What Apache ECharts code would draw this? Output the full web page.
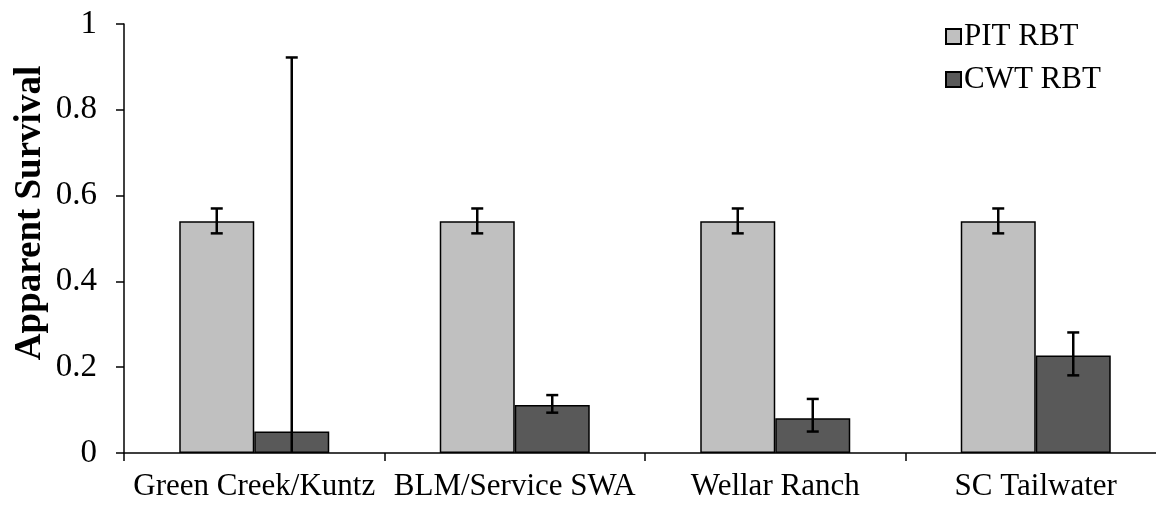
<!DOCTYPE html>
<html><head><meta charset="utf-8">
<script src="https://cdn.jsdelivr.net/npm/echarts@6/dist/echarts.min.js"></script>
<style>html,body{margin:0;padding:0;background:#fff}#c{width:1156px;height:514px}</style>
</head><body><div id="c"></div>
<script>
const categories = ['Green Creek/Kuntz', 'BLM/Service SWA', 'Wellar Ranch', 'SC Tailwater'];
const seriesNames = ['PIT RBT', 'CWT RBT'];
const pitValues = [0.54, 0.54, 0.54, 0.54];
const pitLow = [0.512, 0.512, 0.512, 0.512];
const pitHigh = [0.570, 0.570, 0.570, 0.570];
const cwtValues = [0.05, 0.112, 0.081, 0.227];
const cwtLow = [0.0, 0.094, 0.05, 0.181];
const cwtHigh = [0.922, 0.135, 0.126, 0.281];
const yTicks = [0, 0.2, 0.4, 0.6, 0.8, 1];
const yTitle = 'Apparent Survival';

const FONT = '"Liberation Serif", "Times New Roman", serif';
const BAR_W = 75;

function errData(low, high) {
  return categories.map((c, i) => [i, low[i], high[i]]);
}
function errSeries(low, high, offset) {
  return {
    type: 'custom',
    data: errData(low, high),
    z: 10,
    clip: false,
    silent: true,
    renderItem: function (params, api) {
      const i = api.value(0);
      const lo = api.coord([i, api.value(1)]);
      const hi = api.coord([i, api.value(2)]);
      const x = lo[0] + offset;
      const cap = 6;
      const st = { stroke: '#000', lineWidth: 2.5 };
      const children = [
        { type: 'line', shape: { x1: x, y1: lo[1], x2: x, y2: hi[1] }, style: st },
        { type: 'line', shape: { x1: x - cap, y1: hi[1], x2: x + cap, y2: hi[1] }, style: st }
      ];
      if (api.value(1) > 0) {
        children.push({ type: 'line', shape: { x1: x - cap, y1: lo[1], x2: x + cap, y2: lo[1] }, style: st });
      }
      return { type: 'group', children: children };
    }
  };
}

const chart = echarts.init(document.getElementById('c'));
chart.setOption({
  animation: false,
  backgroundColor: '#fff',
  grid: { left: 124, top: 24, width: 1042, height: 429, containLabel: false, outerBoundsMode: 'none' },
  legend: {
    data: seriesNames,
    orient: 'vertical',
    left: 940, top: 16,
    itemWidth: 15, itemHeight: 15, itemGap: 12,
    textStyle: { fontFamily: FONT, fontSize: 31, color: '#000', padding: [0, 0, 0, -2] },
    icon: 'rect'
  },
  graphic: [{
    type: 'text',
    x: 30, y: 213,
    rotation: Math.PI / 2,
    style: { text: yTitle, fontFamily: FONT, fontSize: 37, fontWeight: 'bold', fill: '#000',
      textAlign: 'center', textVerticalAlign: 'middle' }
  }],
  xAxis: {
    type: 'category',
    data: categories,
    axisLine: { lineStyle: { color: '#000', width: 1.5 } },
    axisTick: { show: true, length: 8, inside: false, lineStyle: { color: '#000', width: 1.5 }, alignWithLabel: false },
    axisLabel: { fontFamily: FONT, fontSize: 31, color: '#000', margin: 18, interval: 0 }
  },
  yAxis: {
    type: 'value',
    min: 0, max: 1, interval: 0.2,
    splitLine: { show: false },
    axisLine: { show: true, lineStyle: { color: '#000', width: 1.5 } },
    axisTick: { show: true, length: 8, lineStyle: { color: '#000', width: 1.5 } },
    axisLabel: { fontFamily: FONT, fontSize: 33, color: '#000', margin: 27,
      formatter: function (v) { return yTicks.indexOf(v) >= 0 ? String(v) : ''; } }
  },
  series: [
    { name: seriesNames[0], type: 'bar', data: pitValues, barWidth: BAR_W, barGap: '0%',
      itemStyle: { color: '#C0C0C0', borderColor: '#000', borderWidth: 1.5 } },
    { name: seriesNames[1], type: 'bar', data: cwtValues, barWidth: BAR_W, barGap: '0%',
      itemStyle: { color: '#595959', borderColor: '#000', borderWidth: 1.5 } },
    errSeries(pitLow, pitHigh, -BAR_W / 2),
    errSeries(cwtLow, cwtHigh, BAR_W / 2)
  ]
});
</script></body></html>
